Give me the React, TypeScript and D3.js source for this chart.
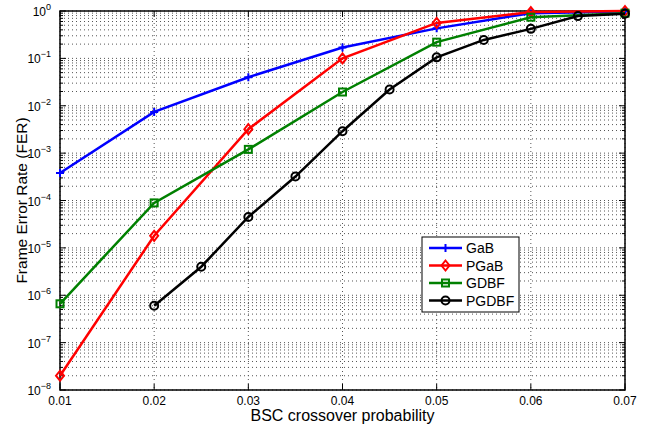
import React, { useEffect, useRef } from 'react';
import * as d3 from 'd3';

const xTicks = [0.01, 0.02, 0.03, 0.04, 0.05, 0.06, 0.07];
const yExponents = [0, -1, -2, -3, -4, -5, -6, -7, -8];

const gabX = [0.01, 0.02, 0.03, 0.04, 0.05, 0.06, 0.07];
const gabY = [3.8e-4, 7.4e-3, 0.04, 0.17, 0.43, 0.9, 0.98];

const pgabX = [0.01, 0.02, 0.03, 0.04, 0.05, 0.06, 0.07];
const pgabY = [2e-8, 1.8e-5, 3.2e-3, 0.1, 0.56, 0.95, 1.0];

const gdbfX = [0.01, 0.02, 0.03, 0.04, 0.05, 0.06, 0.07];
const gdbfY = [6.6e-7, 8.9e-5, 1.2e-3, 0.0195, 0.22, 0.74, 0.9];

const pgdbfX = [0.02, 0.025, 0.03, 0.035, 0.04, 0.045, 0.05, 0.055, 0.06, 0.065, 0.07];
const pgdbfY = [6e-7, 4e-6, 4.5e-5, 3.2e-4, 2.9e-3, 0.022, 0.105, 0.245, 0.42, 0.78, 0.88];

const seriesNames = ['GaB', 'PGaB', 'GDBF', 'PGDBF'];
const seriesColors = ['#0000ff', '#ff0000', '#008000', '#000000'];
const seriesMarkers = ['plus', 'diamond', 'square', 'circle'];

const App = () => {
  const ref = useRef<SVGSVGElement>(null);

  useEffect(() => {
    const svg = d3.select(ref.current);
    svg.selectAll('*').remove();

    const margin = { top: 11, right: 28, bottom: 40, left: 60 };
    const width = 653 - margin.left - margin.right;
    const height = 390 - margin.top;
    const g = svg.append('g').attr('transform', `translate(${margin.left},${margin.top})`);

    const x = d3.scaleLinear().domain([0.01, 0.07]).range([0, width]);
    const y = d3.scaleLog().domain([1e-8, 1]).range([height, 0]);

    const font = 'Liberation Sans, Arial, Helvetica, sans-serif';

    // grid: minor + major on y, major on x
    const minorY: number[] = [];
    for (let e = -8; e < 0; e++) {
      for (let m = 1; m <= 9; m++) minorY.push(m * Math.pow(10, e));
    }
    minorY.push(1);
    g.append('g')
      .selectAll('line')
      .data(minorY)
      .enter().append('line')
      .attr('x1', 0).attr('x2', width)
      .attr('y1', d => y(d)).attr('y2', d => y(d))
      .attr('stroke', '#555')
      .attr('stroke-width', 1)
      .attr('stroke-dasharray', '1,3');
    g.append('g')
      .selectAll('line')
      .data(xTicks)
      .enter().append('line')
      .attr('x1', d => x(d)).attr('x2', d => x(d))
      .attr('y1', 0).attr('y2', height)
      .attr('stroke', '#555')
      .attr('stroke-width', 1)
      .attr('stroke-dasharray', '1,3');

    // box
    g.append('rect')
      .attr('x', 0).attr('y', 0)
      .attr('width', width).attr('height', height)
      .attr('fill', 'none')
      .attr('stroke', '#000')
      .attr('stroke-width', 1.5);

    // ticks
    const ticks = g.append('g').attr('stroke', '#000').attr('stroke-width', 1);
    xTicks.forEach(t => {
      ticks.append('line').attr('x1', x(t)).attr('x2', x(t)).attr('y1', height).attr('y2', height - 6);
      ticks.append('line').attr('x1', x(t)).attr('x2', x(t)).attr('y1', 0).attr('y2', 6);
    });
    minorY.forEach(t => {
      const major = Math.abs(Math.log10(t) - Math.round(Math.log10(t))) < 1e-9;
      const len = major ? 6 : 3;
      ticks.append('line').attr('x1', 0).attr('x2', len).attr('y1', y(t)).attr('y2', y(t));
      ticks.append('line').attr('x1', width).attr('x2', width - len).attr('y1', y(t)).attr('y2', y(t));
    });

    // x tick labels
    g.append('g')
      .selectAll('text')
      .data(xTicks)
      .enter().append('text')
      .attr('x', d => x(d))
      .attr('y', height + 15)
      .attr('text-anchor', 'middle')
      .attr('font-family', font)
      .attr('font-size', 12)
      .text(d => d3.format('.2f')(d));

    // y tick labels
    const yl = g.append('g');
    yExponents.forEach(e => {
      const t = yl.append('text')
        .attr('x', -9)
        .attr('y', y(Math.pow(10, e)) + 5)
        .attr('text-anchor', 'end')
        .attr('font-family', font)
        .attr('font-size', 12);
      t.append('tspan').text('10');
      t.append('tspan').attr('dy', -6).attr('font-size', 9).text(String(e).replace('-', '\u2212'));
    });

    // axis titles
    svg.append('text')
      .attr('x', margin.left + width / 2)
      .attr('y', 421)
      .attr('text-anchor', 'middle')
      .attr('font-family', font)
      .attr('font-size', 16)
      .text('BSC crossover probability');
    svg.append('text')
      .attr('transform', `translate(27,${margin.top + height / 2}) rotate(-90)`)
      .attr('text-anchor', 'middle')
      .attr('font-family', font)
      .attr('font-size', 15.5)
      .text('Frame Error Rate (FER)');

    const allX = [gabX, pgabX, gdbfX, pgdbfX];
    const allY = [gabY, pgabY, gdbfY, pgdbfY];

    const drawMarker = (sel: any, kind: string, color: string, cx: number, cy: number) => {
      if (kind === 'plus') {
        sel.append('path')
          .attr('d', `M${cx - 4},${cy}H${cx + 4}M${cx},${cy - 4}V${cy + 4}`)
          .attr('stroke', color).attr('stroke-width', 2).attr('fill', 'none');
      } else if (kind === 'diamond') {
        sel.append('path')
          .attr('d', `M${cx},${cy - 5}L${cx + 4},${cy}L${cx},${cy + 5}L${cx - 4},${cy}Z`)
          .attr('stroke', color).attr('stroke-width', 2).attr('fill', 'none');
      } else if (kind === 'square') {
        sel.append('rect')
          .attr('x', cx - 3.5).attr('y', cy - 3.5).attr('width', 7).attr('height', 7)
          .attr('stroke', color).attr('stroke-width', 2).attr('fill', 'none');
      } else {
        sel.append('circle')
          .attr('cx', cx).attr('cy', cy).attr('r', 4)
          .attr('stroke', color).attr('stroke-width', 2).attr('fill', 'none');
      }
    };

    const line = d3.line<[number, number]>().x(d => x(d[0])).y(d => y(d[1]));

    allX.forEach((xs, i) => {
      const pts = xs.map((v, j) => [v, allY[i][j]] as [number, number]);
      const sg = g.append('g');
      sg.append('path')
        .attr('d', line(pts))
        .attr('fill', 'none')
        .attr('stroke', seriesColors[i])
        .attr('stroke-width', 2.5);
      pts.forEach(p => drawMarker(sg, seriesMarkers[i], seriesColors[i], x(p[0]), y(p[1])));
    });

    // legend
    const lg = svg.append('g').attr('transform', 'translate(422,237)');
    lg.append('rect')
      .attr('width', 97).attr('height', 75)
      .attr('fill', '#fff')
      .attr('stroke', '#000')
      .attr('stroke-width', 1);
    seriesNames.forEach((name, i) => {
      const ly = 11 + i * 17.5;
      lg.append('line')
        .attr('x1', 7).attr('x2', 40)
        .attr('y1', ly).attr('y2', ly)
        .attr('stroke', seriesColors[i])
        .attr('stroke-width', 2.5);
      drawMarker(lg, seriesMarkers[i], seriesColors[i], 23.5, ly);
      lg.append('text')
        .attr('x', 44)
        .attr('y', ly + 5)
        .attr('font-family', font)
        .attr('font-size', 14)
        .text(name);
    });
  }, []);

  return <svg ref={ref} width={653} height={430} style={{ display: 'block', position: 'absolute', left: 0, top: 0 }} />;
};

export default App;
